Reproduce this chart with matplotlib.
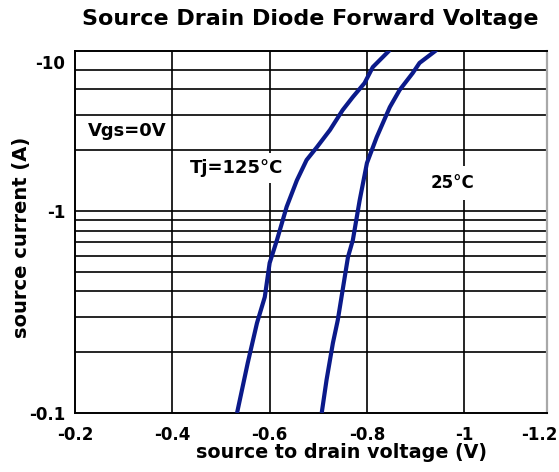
import matplotlib
matplotlib.use("Agg")
import matplotlib.pyplot as plt

# ---- data ----
v_125 = [-0.533, -0.555, -0.574, -0.590, -0.600, -0.615, -0.635, -0.656, -0.676,
         -0.697, -0.724, -0.750, -0.771, -0.795, -0.812, -0.847]
i_125 = [0.100, 0.177, 0.279, 0.375, 0.553, 0.718, 1.05, 1.42, 1.79,
         2.07, 2.52, 3.16, 3.67, 4.30, 5.16, 6.27]

v_25 = [-0.707, -0.717, -0.730, -0.740, -0.750, -0.761, -0.771, -0.785, -0.800,
        -0.820, -0.847, -0.867, -0.894, -0.908, -0.943]
i_25 = [0.100, 0.146, 0.222, 0.288, 0.406, 0.592, 0.718, 1.13, 1.73,
        2.32, 3.27, 3.97, 4.82, 5.41, 6.27]

x_grid = [-0.4, -0.6, -0.8, -1.0]
y_grid = [0.2, 0.3, 0.4, 0.5, 0.6, 0.7, 0.8, 0.9, 1.0, 2, 3, 4, 5]
x_tick_vals = [-0.2, -0.4, -0.6, -0.8, -1.0, -1.155]
x_tick_labels = ["-0.2", "-0.4", "-0.6", "-0.8", "-1", "-1.2"]
y_tick_vals = [0.1, 1.0, 5.45]
y_tick_labels = ["-0.1", "-1", "-10"]

plt.rcParams['font.family'] = ['DejaVu Sans']
plt.rcParams['font.weight'] = 'bold'

fig = plt.figure(figsize=(5.59, 4.72), dpi=100)
ax = fig.add_axes([75/559, 59/472, 472/559, 362/472])

ax.set_yscale('log')
ax.set_xlim(-0.2, -1.17)
ax.set_ylim(0.1, 6.2)

for xv in x_grid:
    ax.axvline(xv, color='black', lw=1.2, zorder=1)
for yv in y_grid:
    ax.axhline(yv, color='black', lw=1.2, zorder=1)

navy = '#0b1a8a'
ax.plot(v_125, i_125, color=navy, lw=3.0, zorder=4, solid_capstyle='butt')
ax.plot(v_25, i_25, color=navy, lw=3.0, zorder=4, solid_capstyle='butt')

ax.set_xticks(x_tick_vals)
ax.set_xticklabels(x_tick_labels)
ax.set_yticks(y_tick_vals)
ax.set_yticklabels(y_tick_labels)
ax.minorticks_off()
ax.tick_params(axis='both', length=0, labelsize=12)
ax.tick_params(axis='x', pad=9)
ax.tick_params(axis='y', pad=7)
for lab in ax.get_xticklabels() + ax.get_yticklabels():
    lab.set_fontweight('bold')

for s in ['left', 'bottom', 'top']:
    ax.spines[s].set_color('black')
    ax.spines[s].set_linewidth(1.4)
ax.spines['right'].set_color('#a8a8a8')
ax.spines['right'].set_linewidth(1.6)

fig.text(310/559, 1 - 19/472, "Source Drain Diode Forward Voltage",
         ha='center', va='center', fontsize=16, fontweight='bold')
fig.text(342/559, 1 - 453/472, "source to drain voltage (V)",
         ha='center', va='center', fontsize=13.8, fontweight='bold')
fig.text(21/559, 1 - 237/472, "source current (A)", rotation=90,
         ha='center', va='center', fontsize=14, fontweight='bold')

ax.text(0.11, 0.78, "Vgs=0V", transform=ax.transAxes, ha='center', va='center',
        fontsize=13, fontweight='bold', zorder=3)
ax.text(0.343, 0.677, "Tj=125°C", transform=ax.transAxes, ha='center', va='center',
        fontsize=13, fontweight='bold', zorder=3,
        bbox=dict(facecolor='white', edgecolor='none', pad=4))
ax.text(0.799, 0.635, "25°C", transform=ax.transAxes, ha='center', va='center',
        fontsize=12, fontweight='bold', zorder=3,
        bbox=dict(facecolor='white', edgecolor='none', pad=6))

fig.savefig("out.png", dpi=100)
